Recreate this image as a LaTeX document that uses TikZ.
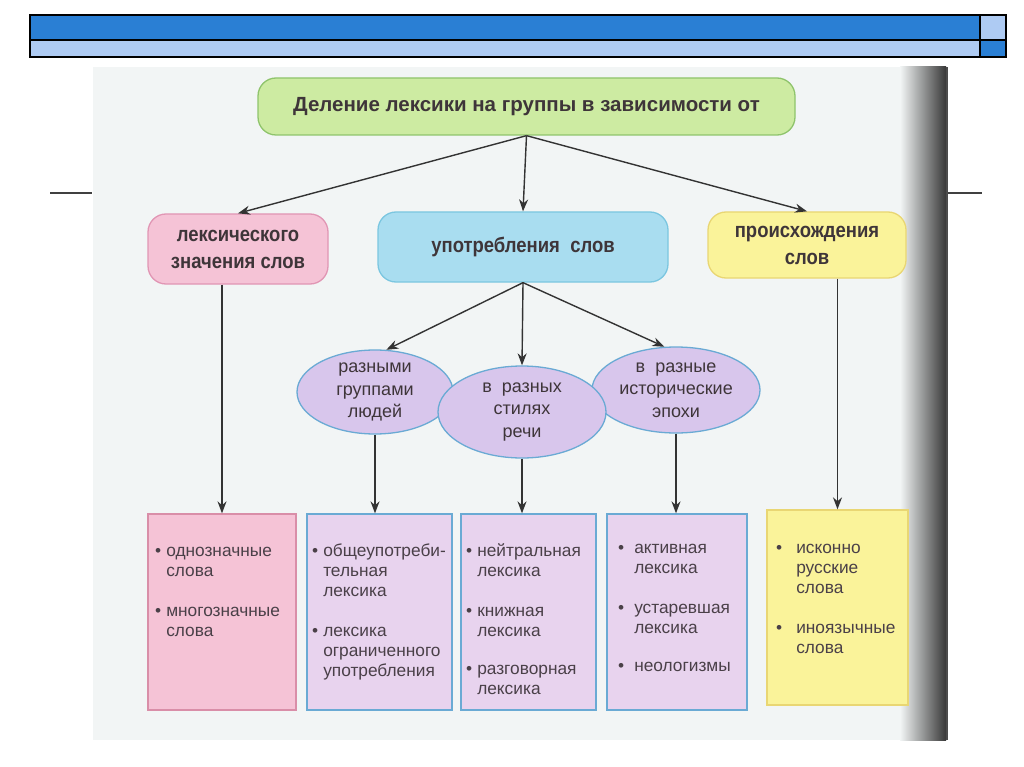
\documentclass[tikz,border=0pt]{standalone}
\usepackage{fontspec}
\setmainfont{Liberation Sans}
\newfontfamily\condb[FakeStretch=0.88]{Liberation Sans}
\usetikzlibrary{arrows.meta,shapes.geometric}
\definecolor{barDark}{HTML}{2A7FD4}
\definecolor{barLight}{HTML}{AECBF3}
\definecolor{pagebg}{HTML}{F2F5F5}
\definecolor{txt}{HTML}{3E3539}
\definecolor{btxt}{HTML}{4A4048}
\definecolor{grfill}{HTML}{CDEBA2}
\definecolor{grline}{HTML}{8FC46C}
\definecolor{pkfill}{HTML}{F5C3D6}
\definecolor{pkline}{HTML}{E196B4}
\definecolor{blfill}{HTML}{A9DDF0}
\definecolor{blline}{HTML}{7BC6E0}
\definecolor{yefill}{HTML}{FAF39A}
\definecolor{yeline}{HTML}{E9D673}
\definecolor{lifill}{HTML}{D8C6EC}
\definecolor{liline}{HTML}{6AAAD4}
\definecolor{b2fill}{HTML}{E8D3EE}
\definecolor{b1line}{HTML}{D98EA8}
\tikzset{
  head/.style={draw, line width=1.3pt, rounded corners=18pt, align=center,
    text=txt, font=\condb\bfseries\fontsize{21}{27}\selectfont},
  oval/.style={ellipse, draw=liline, fill=lifill, line width=1.3pt, align=center,
    text=txt, font=\fontsize{18}{22.5}\selectfont, inner sep=0pt},
  box/.style={draw, line width=1.3pt, inner sep=0pt},
  items/.style={anchor=north west, align=left, text=btxt, inner sep=0pt,
    font=\fontsize{17.3}{20}\selectfont},
  arr/.style={draw=black!80, line width=1.4pt, -{Stealth[length=12pt,width=9pt]}},
}
\begin{document}
\begin{tikzpicture}[x=1pt,y=-1pt]
\useasboundingbox (0,0) rectangle (1024,767);
\fill[white] (0,0) rectangle (1024,767);
% top bar
\fill[barDark] (30,15) rectangle (980,40);
\fill[barLight] (30,40) rectangle (980,57);
\fill[barLight] (980,15) rectangle (1006,40);
\fill[barDark] (980,40) rectangle (1006,57);
\draw[line width=1.2pt] (30,15) rectangle (1006,57);
\draw[line width=1.2pt] (30,40) -- (1006,40);
\draw[line width=1.2pt] (980,15) -- (980,57);
% page
\fill[pagebg] (93,67) rectangle (948,740);
\shade[left color=pagebg, right color=black!78] (900,67) rectangle (946,740);
\fill[black!70] (946,67) rectangle (948,740);
\draw[line width=1.3pt, black!75] (50,193) -- (92,193);
\draw[line width=1.3pt, black!75] (948,193) -- (982,193);
% nodes
\node[head, draw=grline, fill=grfill, minimum width=537pt, minimum height=57pt,
  font=\bfseries\fontsize{20.5}{24}\selectfont] (top) at (526.5,106.5)
  {Деление лексики на группы в зависимости от};
\node[head, draw=pkline, fill=pkfill, minimum width=180pt, minimum height=70pt] (lex) at (238,249)
  {лексического\\значения слов};
\node[head, draw=blline, fill=blfill, minimum width=290pt, minimum height=70pt] (use) at (523,247)
  {употребления\ \ слов};
\node[head, draw=yeline, fill=yefill, minimum width=198pt, minimum height=66pt] (orig) at (807,245)
  {происхождения\\слов};
\node[oval, minimum width=156pt, minimum height=84pt] (e1) at (375,392)
  {разными\\группами\\людей};
\node[oval, minimum width=168pt, minimum height=86pt] (e3) at (676,390)
  {в\ \ разные\\исторические\\эпохи};
\node[oval, minimum width=168pt, minimum height=92pt] (e2) at (522,412)
  {в\ \ разных\\стилях\\речи};
% bottom boxes
\node[box, draw=b1line, fill=pkfill, minimum width=148pt, minimum height=196pt] (b1) at (222,612) {};
\node[box, draw=liline, fill=b2fill, minimum width=145pt, minimum height=196pt] (b2) at (379.5,612) {};
\node[box, draw=liline, fill=b2fill, minimum width=135pt, minimum height=196pt] (b3) at (528.5,612) {};
\node[box, draw=liline, fill=b2fill, minimum width=140pt, minimum height=196pt] (b4) at (677,612) {};
\node[box, draw=yeline, fill=yefill, minimum width=141pt, minimum height=195pt] (b5) at (837.5,607.5) {};
\node[items] (t1) at (155,542) {\begin{tabular}{@{}l@{\hspace{5pt}}l@{}}
•& однозначные\\ & слова\\[20pt] •& многозначные\\ & слова\end{tabular}};
\node[items] (t2) at (312,542) {\begin{tabular}{@{}l@{\hspace{5pt}}l@{}}
•& общеупотреби-\\ & тельная\\ & лексика\\[20pt] •& лексика\\ & ограниченного\\ & употребления\end{tabular}};
\node[items] (t3) at (466,542) {\begin{tabular}{@{}l@{\hspace{5pt}}l@{}}
•& нейтральная\\ & лексика\\[20pt] •& книжная\\ & лексика\\[18pt] •& разговорная\\ & лексика\end{tabular}};
\node[items] (t4) at (618,539) {\begin{tabular}{@{}l@{\hspace{10pt}}l@{}}
•& активная\\ & лексика\\[20pt] •& устаревшая\\ & лексика\\[18pt] •& неологизмы\end{tabular}};
\node[items] (t5) at (776,539) {\begin{tabular}{@{}l@{\hspace{14pt}}l@{}}
•& исконно\\ & русские\\ & слова\\[20pt] •& иноязычные\\ & слова\end{tabular}};
% connectors
\draw[arr] (top.south) -- (lex.north);
\draw[arr] (top.south) -- (use.north);
\draw[arr] (top.south) -- (orig.north);
\draw[arr] (use.south) -- (e1.75);
\draw[arr] (use.south) -- (e2.north);
\draw[arr] (use.south) -- (e3.105);
\draw[arr] (lex.south -| b1.north) -- (b1.north);
\draw[arr] (e1.south) -- (e1.south |- b2.north);
\draw[arr] (e2.south) -- (e2.south |- b3.north);
\draw[arr] (e3.south) -- (e3.south |- b4.north);
\draw[arr] (orig.south -| b5.north) -- (b5.north);
\end{tikzpicture}
\end{document}
